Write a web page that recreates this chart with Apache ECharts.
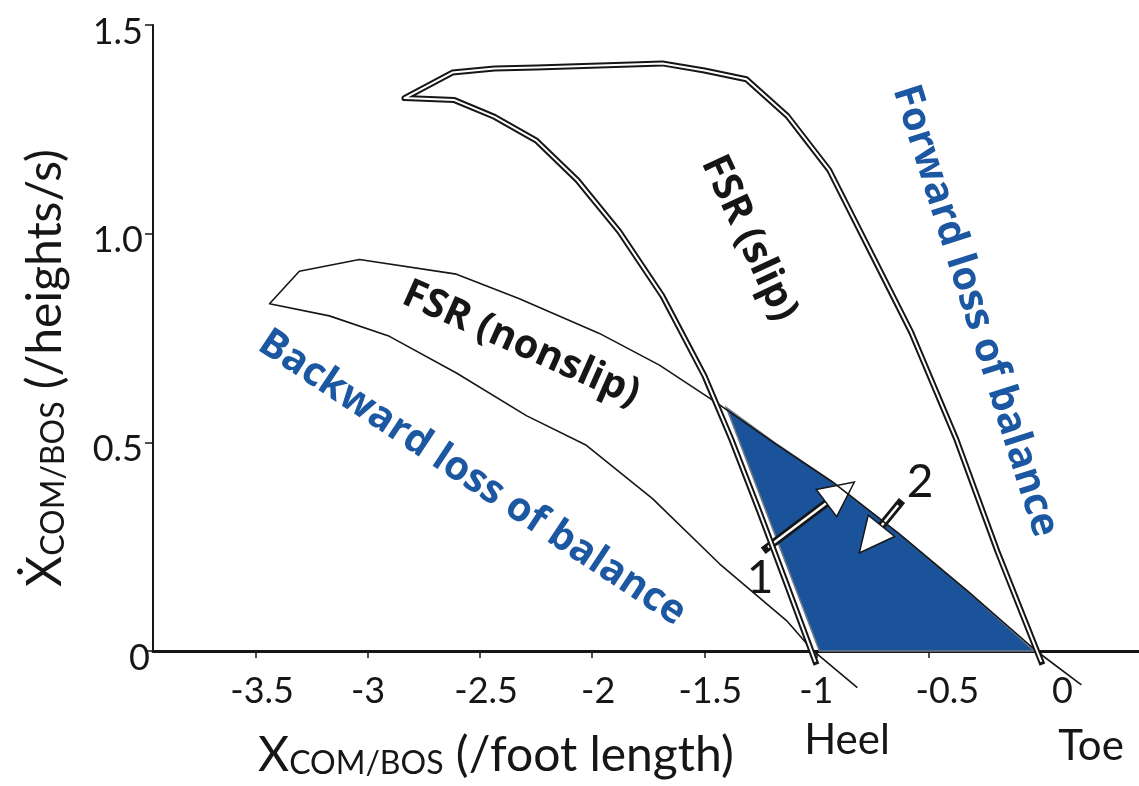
<!DOCTYPE html>
<html>
<head>
<meta charset="utf-8">
<script src="https://cdn.jsdelivr.net/npm/echarts@6/dist/echarts.min.js"></script>
<style>
  html, body { margin: 0; padding: 0; background: #fff; }
  #chart { width: 1139px; height: 786px; }
</style>
</head>
<body>
<div id="chart"></div>
<script>
// Axis ticks and their labels
const xTicks = [-3.5, -3, -2.5, -2, -1.5, -1, -0.5, 0];
const xTickLabels = ['-3.5', '-3', '-2.5', '-2', '-1.5', '-1', '-0.5', '0'];
const yTicks = [0, 0.5, 1.0, 1.5];
const yTickLabels = ['0', '0.5', '1.0', '1.5'];

// Feasible stability region under slip: [x (foot lengths), velocity (heights/s)]
const fsrSlip = [
  [-1.004, -0.026], [-1.138, 0.168], [-1.254, 0.334], [-1.379, 0.507],
  [-1.499, 0.659], [-1.687, 0.851], [-1.879, 1.005], [-2.066, 1.128],
  [-2.249, 1.223], [-2.436, 1.280], [-2.615, 1.320], [-2.838, 1.325],
  [-2.624, 1.386], [-2.436, 1.396], [-2.249, 1.398], [-1.687, 1.408],
  [-1.499, 1.391], [-1.312, 1.370], [-1.129, 1.282], [-0.942, 1.152],
  [-0.763, 0.962], [-0.576, 0.763], [-0.375, 0.507], [-0.192, 0.239],
  [0.004, -0.026]
];

// Feasible stability region without slip (lower branch, tip, upper branch)
const fsrNonslip = [
  [-0.817, -0.088], [-1.017, 0.002], [-1.133, 0.073], [-1.432, 0.209],
  [-1.731, 0.365], [-2.026, 0.493], [-2.294, 0.564], [-2.606, 0.666],
  [-2.905, 0.754], [-3.173, 0.803], [-3.440, 0.832], [-3.307, 0.910],
  [-3.039, 0.938], [-2.606, 0.903], [-2.325, 0.844], [-1.968, 0.761],
  [-1.700, 0.685], [-1.446, 0.595], [-1.187, 0.498], [-0.928, 0.405],
  [-0.629, 0.280], [-0.317, 0.140], [-0.018, 0.000], [0.183, -0.081]
];

// Region 3: stable without slip but unstable once a slip occurs
const region3 = [
  [-1.401, 0.583], [-1.187, 0.500], [-0.928, 0.405], [-0.629, 0.280],
  [-0.317, 0.140], [-0.027, 0.000], [-0.986, 0.000]
];

// Transition arrows: [fromX, fromY, toX, toY]
const arrows = [
  [-1.223, 0.246, -0.830, 0.405],
  [-0.629, 0.353, -0.808, 0.235]
];

const FONT = 'Lato, "Open Sans", "DejaVu Sans", sans-serif';
const BOLD_FONT = '"Open Sans", Lato, "DejaVu Sans", sans-serif';
const BLUE_FILL = '#1a5399';
const BLUE_TEXT = '#1c57a2';
const INK = '#161616';

// per-label horizontal nudges (px) for the x tick labels
const xLabelNudge = [6, 0, 6, 6, 6, 0, 19, 22];
const xRich = {};
xLabelNudge.forEach((n, i) => {
  xRich['n' + i] = {
    fontSize: 36, fontFamily: FONT, color: INK, lineHeight: 36,
    padding: [0, 0, 0, 2 * n]
  };
});

const chart = echarts.init(document.getElementById('chart'), null, { renderer: 'canvas' });

function findIndex(arr, v) {
  return arr.findIndex(t => Math.abs(t - v) < 1e-9);
}

function regionLabel(text, x, y, deg, color) {
  return {
    type: 'text', x: x, y: y, rotation: deg * Math.PI / 180, silent: true,
    style: {
      text: text, fontSize: 40, fontWeight: 'bold', fontFamily: BOLD_FONT,
      fill: color, align: 'center', verticalAlign: 'middle'
    }
  };
}

function plainLabel(text, x, y, size, color) {
  return {
    type: 'text', x: x, y: y, silent: true,
    style: { text: text, fontSize: size, fontFamily: FONT, fill: color, align: 'center', verticalAlign: 'middle' }
  };
}

const titleRich = {
  x: { fontSize: 48, fontFamily: FONT, fill: INK, lineHeight: 48, verticalAlign: 'bottom' },
  s: { fontSize: 32, fontFamily: FONT, fill: INK, lineHeight: 27, verticalAlign: 'bottom' },
  r: { fontSize: 48, fontFamily: FONT, fill: INK, lineHeight: 48, verticalAlign: 'bottom' }
};

const option = {
  animation: false,
  backgroundColor: '#fff',
  grid: { left: 153, right: 0, top: 18, bottom: 135, containLabel: false },
  xAxis: {
    type: 'value',
    min: -3.96,
    max: 0.44,
    splitLine: { show: false },
    axisLine: { show: true, onZero: false, lineStyle: { color: INK, width: 3 } },
    axisTick: {
      show: true, inside: false, length: 7, customValues: xTicks,
      lineStyle: { color: INK, width: 1.5 }
    },
    axisLabel: {
      customValues: xTicks,
      margin: 22,
      formatter: v => {
        const i = findIndex(xTicks, v);
        return i < 0 ? '' : '{n' + i + '|' + xTickLabels[i] + '}';
      },
      rich: xRich
    }
  },
  yAxis: {
    type: 'value',
    min: 0,
    max: 1.5,
    interval: 0.5,
    splitLine: { show: false },
    axisLine: { show: true, onZero: false, lineStyle: { color: INK, width: 2 } },
    axisTick: { show: true, inside: false, length: 8, lineStyle: { color: INK, width: 1.5 } },
    axisLabel: {
      margin: 3,
      formatter: v => {
        const i = findIndex(yTicks, v);
        if (i < 0) return '';
        return (i === 0 ? '{z|' : '{t|') + yTickLabels[i] + '}';
      },
      rich: {
        t: { fontSize: 36, fontFamily: FONT, color: INK, lineHeight: 36, padding: [14, 7, 0, 0] },
        z: { fontSize: 36, fontFamily: FONT, color: INK, lineHeight: 36, padding: [14, 0, 0, 0] }
      }
    }
  },
  series: [
    {
      name: 'FSR (nonslip)',
      type: 'line',
      data: fsrNonslip,
      clip: false,
      silent: true,
      showSymbol: false,
      symbol: 'none',
      lineStyle: { color: INK, width: 1.6, join: 'round' }
    },
    {
      name: 'region 3',
      type: 'custom',
      silent: true,
      data: [0],
      renderItem: (params, api) => ({
        type: 'polygon',
        shape: { points: region3.map(p => api.coord(p)) },
        style: { fill: BLUE_FILL, stroke: '#6f7a88', lineWidth: 1.6 }
      })
    },
    {
      name: 'FSR (slip) outline',
      type: 'line',
      data: fsrSlip,
      clip: false,
      silent: true,
      showSymbol: false,
      symbol: 'none',
      lineStyle: { color: INK, width: 6, cap: 'square', join: 'round' }
    },
    {
      name: 'FSR (slip)',
      type: 'line',
      data: fsrSlip,
      clip: false,
      silent: true,
      showSymbol: false,
      symbol: 'none',
      lineStyle: { color: '#fff', width: 2, cap: 'butt', join: 'round' }
    },
    {
      name: 'transitions',
      type: 'custom',
      silent: true,
      data: arrows,
      renderItem: (params, api) => {
        const a = api.coord([api.value(0), api.value(1)]);
        const b = api.coord([api.value(2), api.value(3)]);
        const dx = b[0] - a[0], dy = b[1] - a[1];
        const len = Math.hypot(dx, dy);
        const ux = dx / len, uy = dy / len;
        const px = -uy, py = ux;
        const headLen = 35, headHalf = 17;
        const base = [b[0] - ux * headLen, b[1] - uy * headLen];
        return {
          type: 'group',
          children: [
            {
              type: 'line',
              shape: { x1: a[0], y1: a[1], x2: base[0], y2: base[1] },
              style: { stroke: INK, lineWidth: 8, lineCap: 'square' }
            },
            {
              type: 'line',
              shape: { x1: a[0] + ux * 2, y1: a[1] + uy * 2, x2: base[0], y2: base[1] },
              style: { stroke: '#fff', lineWidth: 2.5, lineCap: 'butt' }
            },
            {
              type: 'polygon',
              shape: {
                points: [
                  b,
                  [base[0] + px * headHalf, base[1] + py * headHalf],
                  [base[0] - px * headHalf, base[1] - py * headHalf]
                ]
              },
              style: { fill: '#fff', stroke: INK, lineWidth: 1.5, lineJoin: 'miter' }
            }
          ]
        };
      }
    }
  ],
  graphic: [
    {
      type: 'text', x: 258, y: 780, silent: true,
      style: {
        text: '{x|X}{s|COM/BOS}{r| (/foot length)}',
        align: 'left', verticalAlign: 'bottom', rich: titleRich
      }
    },
    {
      type: 'text', x: 70, y: 587, rotation: Math.PI / 2, silent: true,
      style: {
        text: '{x|\u1E8A}{s|COM/BOS}{r| (/heights/s)}',
        align: 'left', verticalAlign: 'bottom', rich: titleRich
      }
    },
    plainLabel('Heel', 847, 740, 42, INK),
    plainLabel('Toe', 1091, 746, 42, INK),
    regionLabel('FSR (slip)', 749, 238, -65, INK),
    regionLabel('FSR (nonslip)', 521, 344, -24, INK),
    regionLabel('Backward loss of balance', 472, 478, -33.5, BLUE_TEXT),
    regionLabel('Forward loss of balance', 975, 311, -72.5, BLUE_TEXT),
    plainLabel('1', 760, 578, 46, INK),
    plainLabel('2', 920, 482, 46, INK),
    plainLabel('3', 852, 588, 46, '#fff')
  ]
};

chart.setOption(option);
</script>
</body>
</html>
